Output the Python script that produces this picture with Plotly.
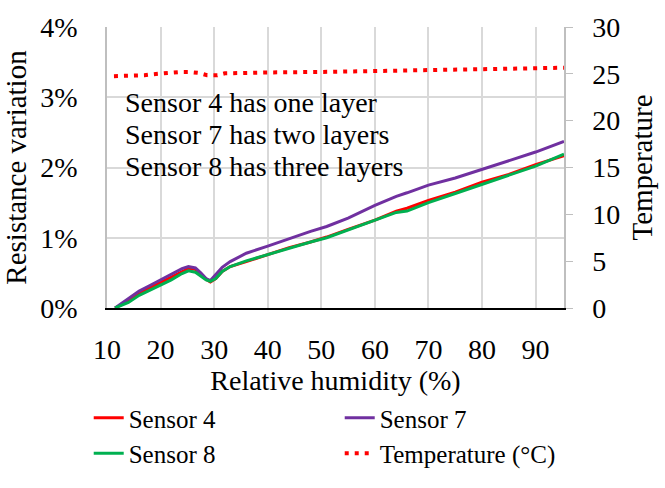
import plotly.graph_objects as go

# Relative humidity (%) sample points
rh = [11.5, 14, 16, 18, 20, 22, 24, 25.2, 26.5, 27.5, 28.5, 29.3, 30.3, 31.5, 33,
      36, 40, 44, 48, 51, 55, 60, 64, 66, 70, 75, 80, 85, 90, 95.3]
# Resistance variation (%)
sensor4 = [0, 0.10, 0.20, 0.29, 0.36, 0.44, 0.52, 0.56, 0.55, 0.48, 0.41, 0.37, 0.42, 0.52, 0.59,
           0.66, 0.76, 0.86, 0.94, 1.01, 1.12, 1.25, 1.38, 1.42, 1.53, 1.65, 1.79, 1.90, 2.04, 2.17]
sensor7 = [0, 0.13, 0.24, 0.32, 0.40, 0.48, 0.56, 0.59, 0.57, 0.50, 0.42, 0.39, 0.47, 0.58, 0.66,
           0.78, 0.88, 0.99, 1.09, 1.16, 1.28, 1.46, 1.59, 1.64, 1.75, 1.85, 1.97, 2.09, 2.22, 2.37]
sensor8 = [0, 0.08, 0.18, 0.25, 0.32, 0.40, 0.49, 0.53, 0.51, 0.46, 0.40, 0.38, 0.42, 0.52, 0.59,
           0.67, 0.76, 0.86, 0.94, 1.00, 1.11, 1.24, 1.36, 1.38, 1.50, 1.63, 1.76, 1.88, 2.02, 2.19]

# Temperature (°C)
rh_t = [11.3, 13, 15, 17, 18.4, 20, 21.9, 23.6, 25.4, 27.1, 28.7, 30.6, 32, 38, 40, 50, 55,
        62, 67, 73, 78, 82, 88, 92, 95.3]
temp = [24.75, 24.75, 24.85, 24.85, 24.95, 25.05, 25.1, 25.2, 25.2, 25.1, 24.85, 24.85, 25.05,
        25.05, 25.15, 25.2, 25.25, 25.3, 25.35, 25.4, 25.45, 25.5, 25.55, 25.65, 25.65]

x_ticks = [10, 20, 30, 40, 50, 60, 70, 80, 90]
y_ticks = [0, 1, 2, 3, 4]
y_ticktext = ["0%", "1%", "2%", "3%", "4%"]
y2_ticks = [0, 5, 10, 15, 20, 25, 30]

notes = ["Sensor 4 has one layer", "Sensor 7 has two layers", "Sensor 8 has three layers"]

FONT = "Liberation Serif"

fig = go.Figure()
fig.add_trace(go.Scatter(x=rh, y=sensor4, name="Sensor 4", mode="lines",
                         line=dict(color="#ff0000", width=3)))
fig.add_trace(go.Scatter(x=rh, y=sensor7, name="Sensor 7", mode="lines",
                         line=dict(color="#7030a0", width=3)))
fig.add_trace(go.Scatter(x=rh, y=sensor8, name="Sensor 8", mode="lines",
                         line=dict(color="#00b050", width=3)))
fig.add_trace(go.Scatter(x=rh_t, y=temp, name="Temperature (°C)", mode="lines", yaxis="y2",
                         line=dict(color="#ff0000", width=4, dash="4px,6px")))

for i, t in enumerate(notes):
    fig.add_annotation(text=t, xref="paper", yref="paper", x=0.035, y=0.733 - i * 0.114,
                       xanchor="left", yanchor="middle", showarrow=False,
                       font=dict(family=FONT, size=28, color="black"))

fig.update_layout(
    width=665, height=488,
    margin=dict(l=107, r=93, t=19, b=172),
    paper_bgcolor="white", plot_bgcolor="white",
    font=dict(family=FONT, size=28, color="black"),
    showlegend=True,
    legend=dict(orientation="h", x=-0.04, xanchor="left", y=-0.31, yanchor="top",
                entrywidth=206, font=dict(family=FONT, size=25, color="black"),
                bgcolor="rgba(0,0,0,0)", traceorder="normal", itemwidth=30),
    xaxis=dict(range=[10, 95.3], tickvals=x_ticks, showgrid=True, gridcolor="#d9d9d9",
               gridwidth=1.5, zeroline=False, showline=True, linecolor="black", linewidth=2,
               ticks="", ticklabelstandoff=15, tickfont=dict(family=FONT, size=28),
               title=dict(text="Relative humidity (%)", standoff=6,
                          font=dict(family=FONT, size=28))),
    yaxis=dict(range=[0, 4], tickvals=y_ticks, ticktext=y_ticktext, showgrid=True,
               gridcolor="#d9d9d9", gridwidth=1.5, zeroline=False, showline=True,
               linecolor="#bfbfbf", linewidth=1.5, ticks="", ticklabelstandoff=22,
               tickfont=dict(family=FONT, size=28),
               title=dict(text="Resistance variation", standoff=6,
                          font=dict(family=FONT, size=29))),
    yaxis2=dict(range=[0, 30], tickvals=y2_ticks, overlaying="y", side="right",
                showgrid=False, zeroline=False, showline=True, linecolor="#bfbfbf",
                linewidth=1.5, ticks="outside", ticklen=7, tickcolor="#bfbfbf",
                ticklabelstandoff=14, tickfont=dict(family=FONT, size=28),
                title=dict(text="Temperature", standoff=12,
                           font=dict(family=FONT, size=29))),
)

fig.write_html("out.html")
